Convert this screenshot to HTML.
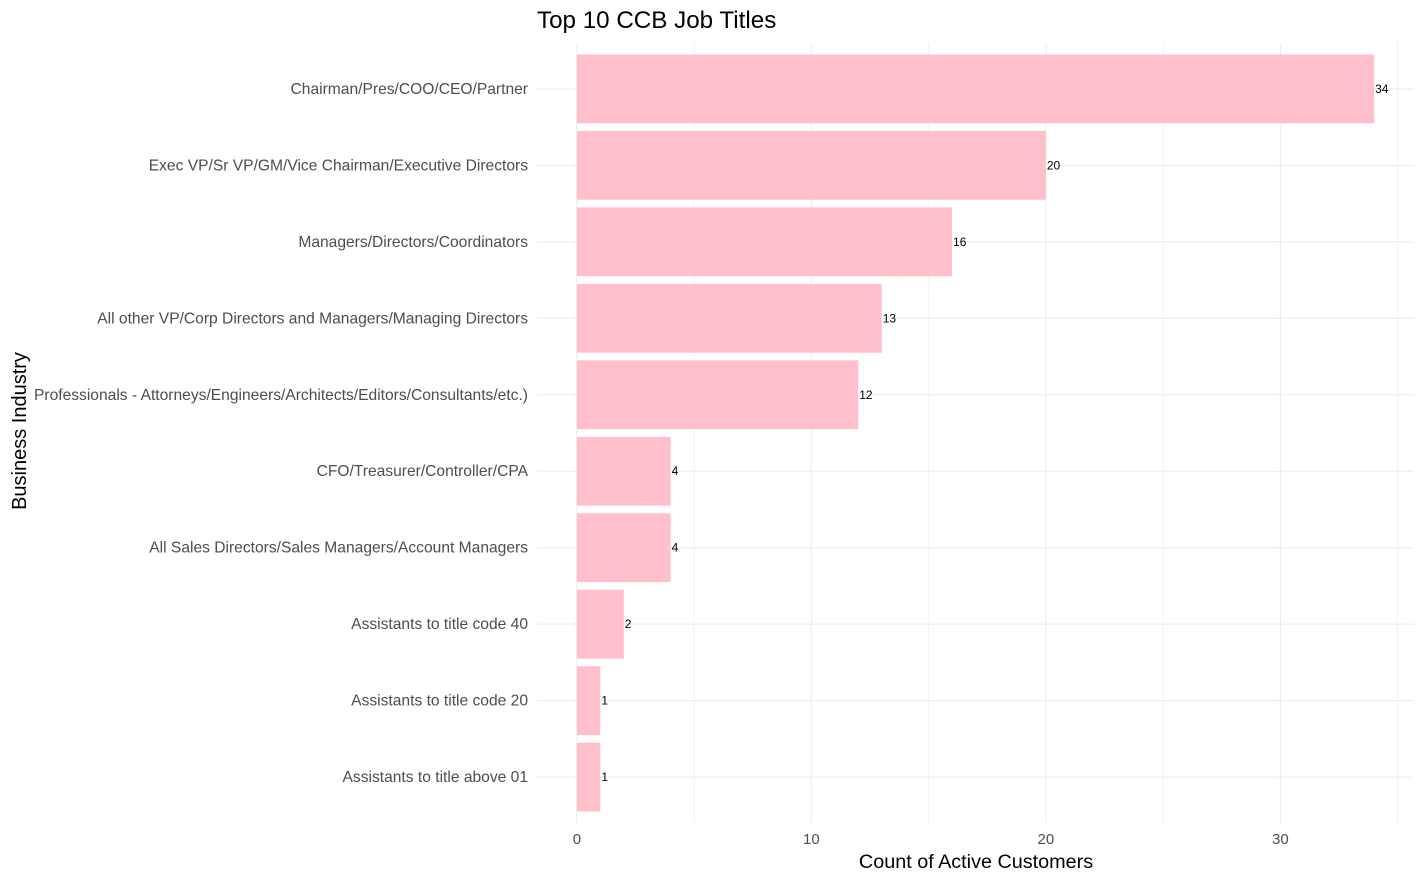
<!DOCTYPE html>
<html><head><meta charset="utf-8"><style>
body{margin:0;background:#fff;}
svg{display:block;font-family:"Liberation Sans",Arial,sans-serif;}
</style></head><body>
<svg id="chart" width="1425" height="881">
<text x="537" y="28" font-size="24.2" fill="#000">Top 10 CCB Job Titles</text>
<g id="grid"></g><g id="bars"></g><g id="labels"></g>
<text x="976" y="868" font-size="19.8" text-anchor="middle" fill="#000">Count of Active Customers</text>
<text transform="translate(26,431) rotate(-90)" font-size="20" text-anchor="middle" fill="#000">Business Industry</text>
</svg>
<script>
const categories=["Chairman/Pres/COO/CEO/Partner","Exec VP/Sr VP/GM/Vice Chairman/Executive Directors","Managers/Directors/Coordinators","All other VP/Corp Directors and Managers/Managing Directors","Professionals - Attorneys/Engineers/Architects/Editors/Consultants/etc.)","CFO/Treasurer/Controller/CPA","All Sales Directors/Sales Managers/Account Managers","Assistants to title code 40","Assistants to title code 20","Assistants to title above 01"];
const values=[34,20,16,13,12,4,4,2,1,1];
const xTicks=[0,10,20,30];
const xMinor=[5,15,25,35];
const NS="http://www.w3.org/2000/svg";
const pL=537,pR=1414,pT=43,pB=823;
const xmin=-1.7,xmax=35.7;
const x=v=>pL+(v-xmin)/(xmax-xmin)*(pR-pL);
const band=(pB-pT)/(categories.length+0.2);
const yc=i=>pT+band*(0.6+i);
function mk(t,a,p){const e=document.createElementNS(NS,t);for(const k in a)e.setAttribute(k,a[k]);p.appendChild(e);return e;}
const g=document.getElementById('grid'),b=document.getElementById('bars'),l=document.getElementById('labels');
xMinor.forEach(v=>{const e=mk('line',{x1:x(v),x2:x(v),y1:pT,y2:pB,stroke:'#f2f2f2','stroke-width':1},g);

});
xTicks.forEach(v=>{const e=mk('line',{x1:x(v),x2:x(v),y1:pT,y2:pB,stroke:'#ebebeb','stroke-width':1},g);


const t=mk('text',{x:x(v),y:844,'font-size':15,'text-anchor':'middle',fill:'#4d4d4d'},l);t.textContent=v;

});
categories.forEach((c,i)=>{const y=yc(i);
const e=mk('line',{x1:pL,x2:pR,y1:y,y2:y,stroke:'#ebebeb','stroke-width':1},g);


const h=band*0.9;
const r=mk('rect',{x:x(0),y:y-h/2,width:x(values[i])-x(0),height:h,fill:'#FFC0CB'},b);


const vt=mk('text',{x:x(values[i])+1,y:y+4,'font-size':12,fill:'#000'},l);vt.textContent=values[i];


const ct=mk('text',{x:528,y:y+5,'font-size':15.6,'text-anchor':'end',fill:'#4d4d4d'},l);ct.textContent=c;

});
</script>
</body></html>
